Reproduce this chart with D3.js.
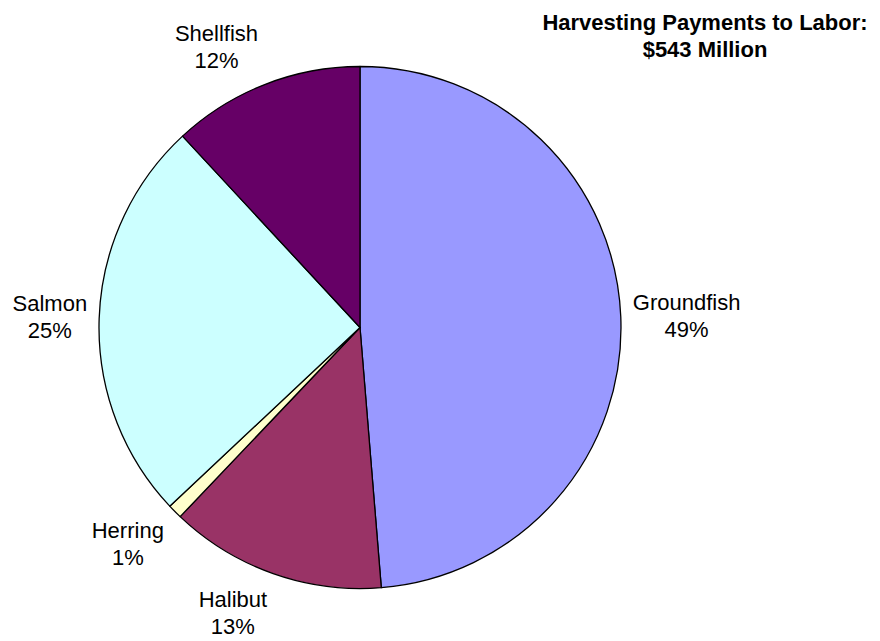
<!DOCTYPE html>
<html><head><meta charset="utf-8">
<script src="https://cdn.jsdelivr.net/npm/d3@7"></script>
<style>html,body{margin:0;padding:0;background:#fff;}svg{display:block;}</style>
</head><body>
<svg id="chart" width="880" height="641"></svg>
<script>
// Data
const categories = ["Groundfish", "Halibut", "Herring", "Salmon", "Shellfish"];
const shares = [48.7, 13.4, 0.9, 25.1, 11.9];
const colors = ["#9999FF", "#993366", "#FFFFCC", "#CCFFFF", "#660066"];
const titleLines = ["Harvesting Payments to Labor:", "$543 Million"];

// Layout
const W = 880, H = 641;
const cx = 360, cy = 327.5, R = 261;
const font = "'Liberation Sans', Arial, Helvetica, sans-serif";

const svg = d3.select("#chart");
const data = categories.map((c, i) => ({ name: c, value: shares[i], color: colors[i] }));
const pie = d3.pie().sort(null).value(d => d.value);
const arcs = pie(data);
const arc = d3.arc().innerRadius(0).outerRadius(R);

const g = svg.append("g").attr("transform", `translate(${cx},${cy})`);
g.selectAll("path").data(arcs).join("path")
  .attr("d", arc)
  .attr("fill", d => d.data.color)
  .attr("stroke", "#000")
  .attr("stroke-width", 1.3)
  .attr("stroke-linejoin", "round");

// Labels
const total = d3.sum(shares);
const boxH = 43;
arcs.forEach(a => {
  const theta = (a.startAngle + a.endAngle) / 2;
  const s = Math.sin(theta), c = Math.cos(theta);
  const labelR = R + 12 + 7 * c * c;
  const ax = cx + labelR * s, ay = cy - labelR * c;
  const t = svg.append("text")
    .attr("font-family", font).attr("font-size", 22).attr("fill", "#000")
    .attr("text-anchor", "middle");
  const l1 = t.append("tspan").text(a.data.name);
  const l2 = t.append("tspan").text(Math.round(a.data.value / total * 100) + "%");
  const w = Math.max(l1.node().getComputedTextLength(), l2.node().getComputedTextLength());
  const gx = Math.max(0, Math.min(1, 0.5 - s * 1.5));
  const fy = Math.max(0, Math.min(1, 0.5 + c * 0.75));
  const left = ax - gx * w, top = ay - fy * boxH;
  const xc = left + w / 2;
  l1.attr("x", xc).attr("y", top + 16);
  l2.attr("x", xc).attr("y", top + 43);
});

// Title
const title = svg.append("text")
  .attr("font-family", font).attr("font-size", 22).attr("font-weight", "bold")
  .attr("text-anchor", "middle").attr("fill", "#000");
title.selectAll("tspan").data(titleLines).join("tspan")
  .attr("x", 705)
  .attr("y", (d, i) => 29.5 + i * 27.5)
  .text(d => d);
</script>
</body></html>
